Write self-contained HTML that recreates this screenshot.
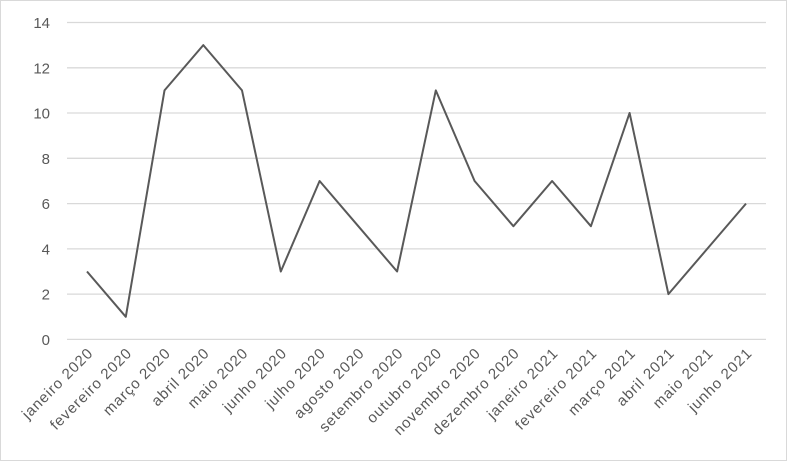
<!DOCTYPE html>
<html><head><style>body{margin:0;background:#fff}svg{display:block}</style></head><body>
<svg width="787" height="461" xmlns="http://www.w3.org/2000/svg" font-family="Liberation Sans, sans-serif">
<rect x="0.5" y="0.5" width="786" height="460" fill="#fff" stroke="#d9d9d9"/>
<g stroke="#d9d9d9" stroke-width="1.3">
<line x1="67" x2="766" y1="22.5" y2="22.5"/><line x1="67" x2="766" y1="67.8" y2="67.8"/><line x1="67" x2="766" y1="113" y2="113"/><line x1="67" x2="766" y1="158.3" y2="158.3"/><line x1="67" x2="766" y1="203.6" y2="203.6"/><line x1="67" x2="766" y1="248.9" y2="248.9"/><line x1="67" x2="766" y1="294.1" y2="294.1"/><line x1="67" x2="766" y1="339.4" y2="339.4"/>
</g>
<g fill="#595959" font-size="15" text-anchor="end">
<text x="50" y="28">14</text><text x="50" y="73.3">12</text><text x="50" y="118.5">10</text><text x="50" y="163.8">8</text><text x="50" y="209.1">6</text><text x="50" y="254.4">4</text><text x="50" y="299.6">2</text><text x="50" y="344.9">0</text>
</g>
<polyline fill="none" stroke="#595959" stroke-width="2" stroke-linejoin="round" points="87,271.5 125.8,316.8 164.5,90.4 203.3,45.1 242,90.4 280.8,271.5 319.6,181 358.3,226.2 397.1,271.5 435.8,90.4 474.6,181 513.4,226.2 552.1,181 590.9,226.2 629.6,113 668.4,294.1 707.2,248.9 746,203.6"/>
<g fill="#595959" font-size="15" letter-spacing="0.9" text-anchor="end">
<text transform="translate(94,354) rotate(-45)">janeiro 2020</text>
<text transform="translate(132.8,354) rotate(-45)">fevereiro 2020</text>
<text transform="translate(171.5,354) rotate(-45)">março 2020</text>
<text transform="translate(210.3,354) rotate(-45)">abril 2020</text>
<text transform="translate(249,354) rotate(-45)">maio 2020</text>
<text transform="translate(287.8,354) rotate(-45)">junho 2020</text>
<text transform="translate(326.6,354) rotate(-45)">julho 2020</text>
<text transform="translate(365.3,354) rotate(-45)">agosto 2020</text>
<text transform="translate(404.1,354) rotate(-45)">setembro 2020</text>
<text transform="translate(442.8,354) rotate(-45)">outubro 2020</text>
<text transform="translate(481.6,354) rotate(-45)">novembro 2020</text>
<text transform="translate(520.4,354) rotate(-45)">dezembro 2020</text>
<text transform="translate(559.1,354) rotate(-45)">janeiro 2021</text>
<text transform="translate(597.9,354) rotate(-45)">fevereiro 2021</text>
<text transform="translate(636.6,354) rotate(-45)">março 2021</text>
<text transform="translate(675.4,354) rotate(-45)">abril 2021</text>
<text transform="translate(714.2,354) rotate(-45)">maio 2021</text>
<text transform="translate(753,354) rotate(-45)">junho 2021</text>
</g>
</svg>
</body></html>
